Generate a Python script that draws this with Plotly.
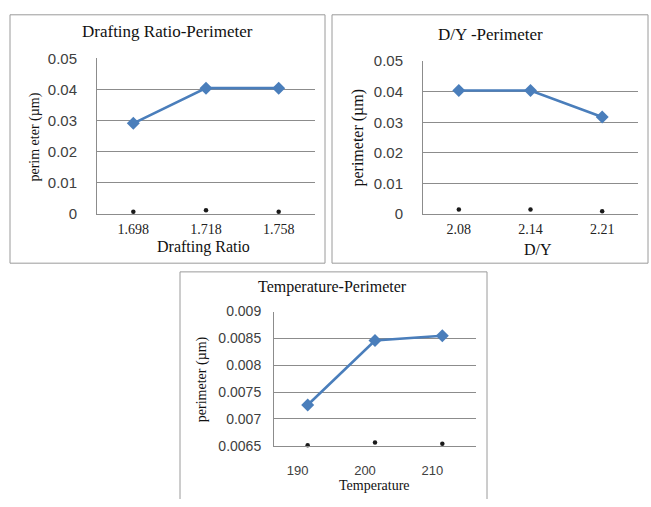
import plotly.graph_objects as go

# ---- data ----
drafting_ratio = ["1.698", "1.718", "1.758"]
perimeter_dr = [0.0291, 0.0404, 0.0404]
marker_dr = [0.0007, 0.0012, 0.0007]

dy_ratio = ["2.08", "2.14", "2.21"]
perimeter_dy = [0.0404, 0.0404, 0.0317]
marker_dy = [0.0014, 0.0014, 0.0009]

temperature = ["190", "200", "210"]
perimeter_t = [0.00726, 0.00846, 0.00855]
marker_t = [0.00651, 0.00656, 0.00654]

W, H = 651, 507
BLUE = "#4a7ebb"
GRID = "#8c8c8c"
SERIF = "Liberation Serif, Times New Roman, serif"
SANS = "Liberation Sans, Arial, sans-serif"


def fx(p):
    return p / W


def fy(p):
    return 1 - p / H


fig = go.Figure()

panels = [
    # x cats, main, dots, axis suffix, plot box (l, r, t, b), yrange, dtick
    (drafting_ratio, perimeter_dr, marker_dr, "", (97, 315, 51, 212), [0, 0.05], 0.01),
    (dy_ratio, perimeter_dy, marker_dy, "2", (423, 638, 54, 212), [0, 0.05], 0.01),
    (temperature, perimeter_t, marker_t, "3", (274, 476, 313, 452), [0.0065, 0.009], 0.0005),
]

for cats, main, dots, sfx, box, yr, dt in panels:
    xa, ya = "x" + sfx, "y" + sfx
    fig.add_trace(go.Scatter(
        x=cats, y=main, mode="lines+markers", xaxis=xa, yaxis=ya,
        line=dict(color=BLUE, width=2.6),
        marker=dict(symbol="diamond", size=10, color=BLUE),
        showlegend=False, cliponaxis=False,
    ))
    fig.add_trace(go.Scatter(
        x=cats, y=dots, mode="markers", xaxis=xa, yaxis=ya,
        marker=dict(symbol="circle", size=4.5, color="#1a1a1a"),
        showlegend=False, cliponaxis=False,
    ))
    l, r, t, b = box
    top_panel = sfx != "3"
    fig.layout["xaxis" + sfx] = dict(
        domain=[fx(l), fx(r)], anchor=ya, type="category",
        range=[-0.5, len(cats) - 0.5],
        showline=True, linecolor=GRID, linewidth=1, showgrid=False,
        ticks="", zeroline=False,
        tickfont=dict(family=SERIF if top_panel else SANS,
                      size=14 if top_panel else 13,
                      color="#222" if top_panel else "#404040"),
        ticklabelstandoff=2 if top_panel else 13,
        ticklabelshift=0 if top_panel else -10,
        fixedrange=True,
    )
    fig.layout["yaxis" + sfx] = dict(
        domain=[fy(b), fy(t)], anchor=xa, range=yr, dtick=dt, tick0=yr[0],
        showline=True, linecolor=GRID, linewidth=1,
        showgrid=True, gridcolor=GRID, gridwidth=1, zeroline=False,
        ticks="",
        tickfont=dict(family=SANS, size=15 if top_panel else 14, color="#404040"),
        ticklabelstandoff=16 if top_panel else 9,
        fixedrange=True,
    )

# chart frames
frame = dict(type="line", xref="paper", yref="paper",
             line=dict(color="#9a9a9a", width=1))
shapes = []
for (x0, x1, y0, y1) in [(10, 325, 6, 263), (332, 648, 6, 263)]:
    shapes.append(dict(type="rect", xref="paper", yref="paper",
                       x0=fx(x0), x1=fx(x1), y0=fy(y1), y1=fy(y0),
                       line=dict(color="#9a9a9a", width=1)))
shapes += [
    dict(frame, x0=fx(180), x1=fx(180), y0=fy(272), y1=0),
    dict(frame, x0=fx(180), x1=fx(487), y0=fy(272), y1=fy(272)),
    dict(frame, x0=fx(487), x1=fx(487), y0=fy(272), y1=0),
]

# titles and axis titles
def label(text, x, y, size, angle=0, family=SERIF, color="#111"):
    return dict(text=text, x=fx(x), y=fy(y), xref="paper", yref="paper",
                showarrow=False, textangle=angle, xanchor="center", yanchor="middle",
                font=dict(family=family, size=size, color=color))

annotations = [
    label("Drafting Ratio-Perimeter", 167, 23, 17),
    label("D/Y -Perimeter", 490, 26, 17),
    label("Temperature-Perimeter", 332, 288, 16),
    label("Drafting Ratio", 204, 246, 16),
    label("D/Y", 538, 249, 16),
    label("Temperature", 374, 493, 14),
    label("perim eter (µm)", 35, 133, 14, angle=-90),
    label("perimeter (µm)", 358, 133, 16, angle=-90),
    label("perimeter (µm)", 202, 383, 14, angle=-90),
]

fig.update_layout(
    width=W, height=H, margin=dict(l=0, r=0, t=0, b=0),
    paper_bgcolor="white", plot_bgcolor="white",
    shapes=shapes, annotations=annotations, showlegend=False,
)

fig.write_html("out.html")
